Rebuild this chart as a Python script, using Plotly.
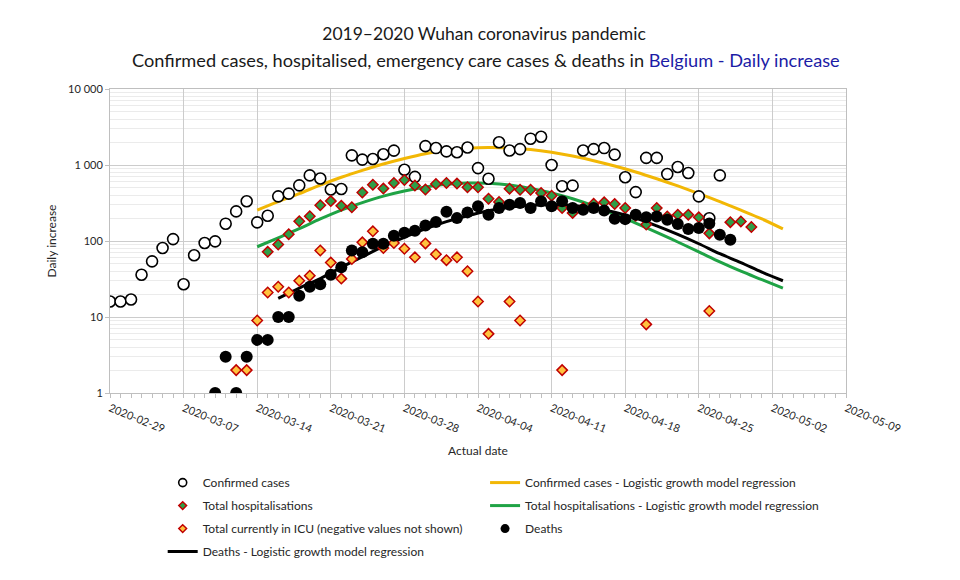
import pandas as pd
import plotly.graph_objects as go

# Daily increase in Belgium, one value per day starting 2020-02-29 (None = not shown)
start_date = "2020-02-29"

confirmed = [16, 16, 17, 36, 54, 81, 106, 27, 65, 94,
             99, 169, 245, 333, 176, 215, 387, 420, 540, 730,
             665, 476, 483, 1340, 1178, 1200, 1385, 1545, 865, 698,
             1770, 1670, 1510, 1470, 1700, 910, 660, 1990, 1550, 1620,
             2220, 2350, 1000, 525, 535, 1550, 1620, 1670, 1370, 690,
             440, 1240, 1240, 760, 940, 785, 387, 199, 731]

hospitalised = [None] * 15 + [
    72, 90, 123, 182, 212, 295, 335, 291, 278, 435,
    550, 490, 580, 635, 538, 476, 563, 580, 570, 510,
    510, 360, 327, 488, 473, 473, 428, 395, 272, 234,
    272, 310, 323, 307, 272, 215, 165, 272, 210, 222,
    222, 205, 126, None, 177, 181, 153]

icu = [None] * 12 + [
    2, 2, 9, 21, 25, 21, 30, 35, 75, 52,
    32, 58, 96, 134, 81, 94, 79, 61, 93, 67,
    56, 61, 40, 16, 6, None, 16, 9, None, None,
    None, 2, None, None, None, None, None, None, None, 8,
    None, None, None, None, None, 12]

deaths = [None] * 10 + [
    1, 3, 1, 3, 5, 5, 10, 10, 19, 25,
    27, 36, 45, 75, 71, 92, 92, 117, 128, 136,
    160, 178, 243, 200, 238, 286, 222, 272, 300, 316,
    272, 333, 286, 333, 272, 258, 272, 251, 196, 194,
    222, 205, 210, 190, 167, 144, 148, 170, 121, 104]

# Logistic growth model regressions, read every second day from 2020-03-14
model_start = "2020-03-14"
confirmed_model = [255, 330, 420, 545, 690, 850, 1030, 1220, 1410, 1560,
                   1660, 1700, 1680, 1600, 1470, 1310, 1140, 970, 810, 660,
                   530, 420, 330, 255, 195, 144]
hospitalised_model = [84, 110, 145, 195, 255, 320, 390, 455, 515, 560,
                      580, 575, 545, 490, 430, 360, 290, 225, 172, 130,
                      97, 72, 53, 40, 31, 24]
deaths_model = [None, 17.6, 24, 32, 45, 62, 85, 112, 145, 180,
                215, 250, 278, 295, 300, 293, 272, 240, 200, 158,
                122, 92, 68, 52, 39, 30]

dates = pd.date_range(start_date, periods=len(hospitalised), freq="D")
model_dates = pd.date_range(model_start, periods=len(confirmed_model), freq="2D")

gold = "#F2B705"
green = "#1FA345"
red_edge = "#C00000"
hosp_fill = "#2E9E48"
icu_fill = "#FFC23E"

circle_open = dict(symbol="circle", color="white", line=dict(color="black", width=1.6))
diamond_h = dict(symbol="diamond", color=hosp_fill, line=dict(color=red_edge, width=1.5))
diamond_i = dict(symbol="diamond", color=icu_fill, line=dict(color=red_edge, width=1.5))
dot = dict(symbol="circle", color="black")

fig = go.Figure()

# regression lines first so the markers sit on top of them
fig.add_trace(go.Scatter(
    x=model_dates, y=confirmed_model, mode="lines", line_shape="spline",
    line=dict(color=gold, width=3),
    name="Confirmed cases - Logistic growth model regression",
    legend="legend2", legendgroup="c_model", legendrank=1))
fig.add_trace(go.Scatter(
    x=model_dates, y=hospitalised_model, mode="lines", line_shape="spline",
    line=dict(color=green, width=3),
    name="Total hospitalisations - Logistic growth model regression",
    legend="legend2", legendgroup="h_model", legendrank=2))
fig.add_trace(go.Scatter(
    x=model_dates, y=deaths_model, mode="lines", line_shape="spline",
    line=dict(color="black", width=3),
    name="Deaths - Logistic growth model regression",
    legend="legend", legendgroup="d_model", legendrank=4))

# observed series (legend entries drawn separately with smaller symbols)
fig.add_trace(go.Scatter(
    x=dates[:len(confirmed)], y=confirmed, mode="markers",
    marker=dict(size=11, **circle_open), name="Confirmed cases", showlegend=False))
fig.add_trace(go.Scatter(
    x=dates, y=hospitalised, mode="markers",
    marker=dict(size=8, **diamond_h), name="Total hospitalisations", showlegend=False))
fig.add_trace(go.Scatter(
    x=dates[:len(icu)], y=icu, mode="markers",
    marker=dict(size=8, **diamond_i),
    name="Total currently in ICU (negative values not shown)", showlegend=False))
fig.add_trace(go.Scatter(
    x=dates[:len(deaths)], y=deaths, mode="markers",
    marker=dict(size=12, **dot), name="Deaths", showlegend=False))

legend_entries = [
    ("Confirmed cases", dict(size=8, **circle_open), "legend", 1),
    ("Total hospitalisations", dict(size=6, **diamond_h), "legend", 2),
    ("Total currently in ICU (negative values not shown)", dict(size=6, **diamond_i), "legend", 3),
    ("Deaths", dict(size=9, **dot), "legend2", 3),
]
for name, marker, leg, rank in legend_entries:
    fig.add_trace(go.Scatter(
        x=[None], y=[None], mode="markers", marker=marker, name=name,
        legend=leg, legendgroup=name, legendrank=rank, hoverinfo="skip"))

legend_style = dict(orientation="v", traceorder="grouped", tracegroupgap=4,
                    font=dict(size=12, color="#262626"), yanchor="top",
                    bgcolor="rgba(0,0,0,0)", itemsizing="trace")

# the page body adds an 8px margin, so the figure is 8px smaller each way
fig.update_layout(
    width=952, height=572,
    margin=dict(l=102, r=114, t=81, b=187),
    paper_bgcolor="white", plot_bgcolor="white",
    font=dict(family="Lato, sans-serif", color="#262626"),
    separators=". ",
    title=dict(text="2019–2020 Wuhan coronavirus pandemic",
               x=0.5, xref="container", xanchor="center",
               y=1 - 26 / 572, yref="container", yanchor="middle",
               font=dict(size=17.5, color="#1a1a1a")),
    annotations=[dict(
        text="Confirmed cases, hospitalised, emergency care cases & deaths in "
             "<span style='color:#1C1CA6'>Belgium - Daily increase</span>",
        x=0.511, xref="paper", xanchor="center",
        y=1.095, yref="paper", yanchor="middle",
        showarrow=False, font=dict(size=18.2, color="#1a1a1a"))],
    legend=dict(x=0.0716, y=-0.247, xanchor="left", **legend_style),
    legend2=dict(x=0.5096, y=-0.247, xanchor="left", **legend_style),
)

fig.update_xaxes(
    type="date", range=["2020-02-29", "2020-05-09"], automargin=False,
    tick0="2020-02-29", dtick=7 * 86400000, tickformat="%Y-%m-%d",
    tickangle=22, tickfont=dict(size=11, color="#262626"),
    showgrid=True, gridcolor="#cccccc", gridwidth=1,
    showline=True, linecolor="#bfbfbf", mirror=True,
    ticks="outside", ticklen=4, tickcolor="#bfbfbf",
    minor=dict(dtick=86400000, ticks="outside", ticklen=4,
               tickcolor="#bfbfbf", showgrid=False),
    title=dict(text="Actual date", font=dict(size=12), standoff=12),
    zeroline=False)

fig.update_yaxes(
    type="log", range=[0, 4], dtick=1, tickformat=",.0f", automargin=False,
    tickfont=dict(size=11, color="#262626"),
    showgrid=True, gridcolor="#cccccc", gridwidth=1,
    showline=True, linecolor="#bfbfbf", mirror=True,
    ticks="outside", ticklen=4, tickcolor="#bfbfbf",
    minor=dict(dtick="D1", showgrid=True, gridcolor="#ebebeb", ticks=""),
    title=dict(text="Daily increase", font=dict(size=12), standoff=8),
    zeroline=False)

fig.write_html("out.html")
